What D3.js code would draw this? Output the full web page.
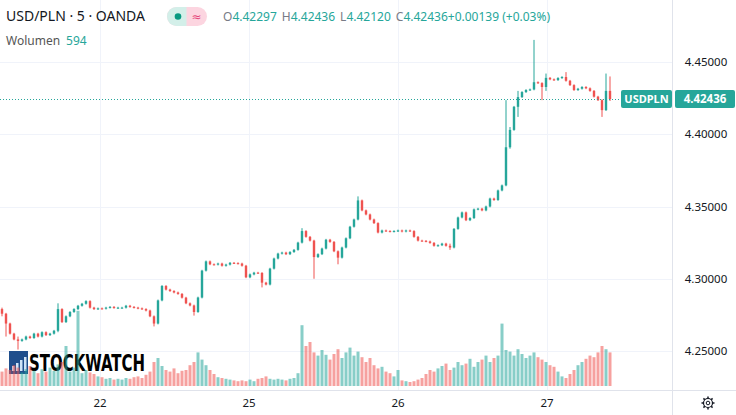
<!DOCTYPE html>
<html>
<head>
<meta charset="utf-8">
<script src="https://cdn.jsdelivr.net/npm/d3@7"></script>
<style>
  body { margin: 0; background: #fff; font-family: "Noto Sans", "DejaVu Sans", sans-serif; }
  svg text { font-family: "Noto Sans", "DejaVu Sans", sans-serif; }
</style>
</head>
<body>
<svg id="chart" width="736" height="415"></svg>
<script>
// USD/PLN 5 min, OANDA - one candle per bucket, open = previous close
var closes = [
  4.2758, 4.2690, 4.2620, 4.2580, 4.2570, 4.2580, 4.2600, 4.2590, 4.2620, 4.2600,
  4.2630, 4.2610, 4.2620, 4.2640, 4.2790, 4.2700, 4.2740, 4.2770, 4.2790, 4.2813,
  4.2827, 4.2845, 4.2800, 4.2790, 4.2795, 4.2793, 4.2800, 4.2805, 4.2798, 4.2800,
  4.2800, 4.2813, 4.2805, 4.2800, 4.2795, 4.2790, 4.2780, 4.2740, 4.2690, 4.2850,
  4.2950, 4.2925, 4.2915, 4.2905, 4.2895, 4.2869, 4.2830, 4.2815, 4.2770, 4.2870,
  4.3056, 4.3120, 4.3100, 4.3098, 4.3105, 4.3090, 4.3098, 4.3110, 4.3108, 4.3105,
  4.3090, 4.3010, 4.3030, 4.3042, 4.3040, 4.2973, 4.2960, 4.3070, 4.3140, 4.3174,
  4.3181, 4.3170, 4.3185, 4.3200, 4.3250, 4.3330, 4.3290, 4.3264, 4.3150, 4.3170,
  4.3209, 4.3270, 4.3255, 4.3190, 4.3146, 4.3216, 4.3280, 4.3360, 4.3410, 4.3542,
  4.3473, 4.3445, 4.3410, 4.3385, 4.3320, 4.3334, 4.3330, 4.3327, 4.3330, 4.3334,
  4.3327, 4.3334, 4.3330, 4.3290, 4.3264, 4.3262, 4.3258, 4.3248, 4.3228, 4.3232,
  4.3243, 4.3228, 4.3216, 4.3345, 4.3424, 4.3459, 4.3405, 4.3420, 4.3480, 4.3485,
  4.3473, 4.3500, 4.3555, 4.3545, 4.3611, 4.3646, 4.3910, 4.4030, 4.4190, 4.4257,
  4.4292, 4.4306, 4.4310, 4.4360, 4.4354, 4.4327, 4.4390, 4.4380, 4.4375, 4.4389,
  4.4396, 4.4370, 4.4340, 4.4306, 4.4315, 4.4327, 4.4318, 4.4300, 4.4260, 4.4236,
  4.4167, 4.4300, 4.42436
];
var firstOpen = 4.2790;

// notable wicks: [candle index, high, low]
var wicks = [
  [0, 4.2800, 4.2740], [1, 4.2760, 4.2600], [4, 4.2600, 4.2510], [14, 4.2830, 4.2630],
  [38, 4.2740, 4.2670], [48, 4.2815, 4.2745], [65, 4.3040, 4.2940], [75, 4.3350, 4.3250],
  [78, 4.3264, 4.3000], [84, 4.3190, 4.3100], [89, 4.3570, 4.3410], [112, 4.3243, 4.3200],
  [126, 4.4236, 4.3880], [127, 4.4050, 4.3900], [129, 4.4300, 4.4120], [133, 4.4653, 4.4310],
  [135, 4.4354, 4.4236], [136, 4.4420, 4.4300], [141, 4.4430, 4.4370], [150, 4.4236, 4.4120],
  [151, 4.4420, 4.4167], [152, 4.4400, 4.4230]
];
var minWick = 0.0006; // typical 5-min range beyond the body

var volumes = [
  180, 220, 200, 260, 230, 170, 210, 250, 190, 160,
  210, 180, 230, 190, 270, 300, 500, 180, 230, 940,
  160, 200, 170, 150, 120, 110, 90, 100, 80, 90,
  80, 100, 90, 110, 120, 100, 140, 180, 300, 350,
  250, 200, 180, 220, 160, 190, 200, 260, 300, 420,
  330, 260, 200, 150, 110, 100, 90, 80, 70, 60,
  70, 60, 80, 60, 90, 100, 120, 90, 80, 90,
  80, 70, 90, 100, 160, 760, 500, 550, 420, 380,
  450, 390, 330, 400, 460, 350, 420, 480, 380, 430,
  360, 300, 350, 260, 220, 240, 180, 160, 120, 200,
  70, 60, 50, 60, 80, 100, 150, 200, 180, 220,
  250, 280, 200, 230, 300, 260, 280, 340, 240, 300,
  330, 380, 300, 350, 380, 780, 450, 430, 380, 460,
  400, 350, 380, 420, 360, 330, 300, 260, 240, 180,
  120, 100, 150, 200, 260, 300, 340, 380, 360, 420,
  500, 460, 420
];

var priceTicks = [4.25, 4.30, 4.35, 4.40, 4.45];
var dayTicks = [[24.5, "22"], [61.75, "25"], [99, "26"], [136.25, "27"]];
var lastPrice = 4.42436;

var upCol = "#26a69a", downCol = "#ef5350";

var svg = d3.select("#chart");
var plotRight = 672, axisY = 390;

var x = d3.scaleLinear().domain([0, 1]).range([2, 6]);
var y = d3.scaleLinear().domain([4.25, 4.45]).range([351, 62]);
var yv = d3.scaleLinear().domain([0, 1000]).range([386, 306]);

// build candles
var candles = closes.map(function (c, i) {
  var o = i == 0 ? firstOpen : closes[i - 1];
  return { i: i, o: o, c: c, h: Math.max(o, c) + minWick, l: Math.min(o, c) - minWick, v: volumes[i] };
});
wicks.forEach(function (w) {
  candles[w[0]].h = Math.max(candles[w[0]].h, w[1]);
  candles[w[0]].l = Math.min(candles[w[0]].l, w[2]);
});

// grid
svg.append("g").selectAll("line").data(priceTicks).join("line")
  .attr("x1", 0).attr("x2", plotRight)
  .attr("y1", function (d) { return Math.round(y(d)) + 0.5; })
  .attr("y2", function (d) { return Math.round(y(d)) + 0.5; })
  .attr("stroke", "#f0f3fa");
svg.append("g").selectAll("line").data(dayTicks).join("line")
  .attr("x1", function (d) { return Math.round(x(d[0])) + 0.5; })
  .attr("x2", function (d) { return Math.round(x(d[0])) + 0.5; })
  .attr("y1", 0).attr("y2", axisY)
  .attr("stroke", "#f0f3fa");

// watermark
var wm = svg.append("g").attr("transform", "translate(9,351)");
wm.append("rect").attr("width", 19).attr("height", 23).attr("fill", "#1f4e8c");
[3, 7, 11, 15].forEach(function (bx, k) {
  wm.append("rect").attr("x", bx).attr("y", 15 - k * 3).attr("width", 2.5).attr("height", 5 + k * 3).attr("fill", "#cfe3f7");
});
wm.append("text").attr("x", 20).attr("y", 20).attr("font-size", 23).attr("font-weight", "bold")
  .attr("textLength", 116).attr("lengthAdjust", "spacingAndGlyphs")
  .style("font-family", "'Liberation Sans Narrow', 'DejaVu Sans Condensed', sans-serif")
  .attr("fill", "#000").text("STOCKWATCH");

// volume
svg.append("g").selectAll("rect").data(candles).join("rect")
  .attr("x", function (d) { return x(d.i) - 1.5; })
  .attr("width", 3)
  .attr("y", function (d) { return yv(d.v); })
  .attr("height", function (d) { return yv(0) - yv(d.v); })
  .attr("fill", function (d) { return d.c >= d.o ? upCol : downCol; })
  .attr("opacity", 0.55);

// candles
var cg = svg.append("g").selectAll("g").data(candles).join("g");
cg.append("line")
  .attr("x1", function (d) { return x(d.i); }).attr("x2", function (d) { return x(d.i); })
  .attr("y1", function (d) { return y(d.h); }).attr("y2", function (d) { return y(d.l); })
  .attr("stroke", function (d) { return d.c >= d.o ? upCol : downCol; })
  .attr("stroke-width", 1);
cg.append("rect")
  .attr("x", function (d) { return x(d.i) - 1.2; })
  .attr("width", 2.4)
  .attr("y", function (d) { return y(Math.max(d.o, d.c)); })
  .attr("height", function (d) { return Math.max(1, Math.abs(y(d.o) - y(d.c))); })
  .attr("fill", function (d) { return d.c >= d.o ? upCol : downCol; });

// last price line
svg.append("line").attr("x1", 0).attr("x2", plotRight)
  .attr("y1", Math.round(y(lastPrice)) + 0.5).attr("y2", Math.round(y(lastPrice)) + 0.5)
  .attr("stroke", upCol).attr("stroke-dasharray", "1,2");

// axes borders
svg.append("line").attr("x1", plotRight + 0.5).attr("x2", plotRight + 0.5).attr("y1", 0).attr("y2", 415).attr("stroke", "#e0e3eb");
svg.append("line").attr("x1", 0).attr("x2", 736).attr("y1", axisY + 0.5).attr("y2", axisY + 0.5).attr("stroke", "#e0e3eb");

// price axis labels
svg.append("g").selectAll("text").data(priceTicks).join("text")
  .attr("x", 706).attr("y", function (d) { return y(d) + 4; })
  .attr("text-anchor", "middle").attr("font-size", 11.5).attr("fill", "#131722")
  .text(function (d) { return d3.format(".5f")(d); });

// time axis labels
svg.append("g").selectAll("text").data(dayTicks).join("text")
  .attr("x", function (d) { return x(d[0]); }).attr("y", 407)
  .attr("text-anchor", "middle").attr("font-size", 11.5).attr("fill", "#131722")
  .text(function (d) { return d[1]; });

// last price labels
var ly = y(lastPrice);
svg.append("rect").attr("x", 621).attr("y", ly - 9).attr("width", 51).attr("height", 18).attr("rx", 2).attr("fill", upCol);
svg.append("text").attr("x", 646.5).attr("y", ly + 4).attr("text-anchor", "middle").attr("font-size", 11).attr("font-weight", "bold").attr("fill", "#fff").text("USDPLN");
svg.append("rect").attr("x", 675).attr("y", ly - 9).attr("width", 60).attr("height", 18).attr("rx", 2).attr("fill", upCol);
svg.append("text").attr("x", 705).attr("y", ly + 4).attr("text-anchor", "middle").attr("font-size", 11.5).attr("font-weight", "bold").attr("fill", "#fff").text(d3.format(".5f")(lastPrice));

// gear icon
var gear = svg.append("g").attr("transform", "translate(708,403)");
gear.append("circle").attr("r", 4.5).attr("fill", "none").attr("stroke", "#131722").attr("stroke-width", 1.2);
gear.append("circle").attr("r", 1.8).attr("fill", "none").attr("stroke", "#131722").attr("stroke-width", 1);
d3.range(8).forEach(function (k) {
  var a = k * Math.PI / 4;
  gear.append("line").attr("x1", Math.cos(a) * 4.5).attr("y1", Math.sin(a) * 4.5)
    .attr("x2", Math.cos(a) * 6.5).attr("y2", Math.sin(a) * 6.5)
    .attr("stroke", "#131722").attr("stroke-width", 1.5);
});

// header
svg.append("text").attr("x", 6).attr("y", 21).attr("font-size", 14).attr("fill", "#131722").text("USD/PLN · 5 · OANDA");
svg.append("rect").attr("x", 167).attr("y", 7).attr("width", 40).attr("height", 19).attr("rx", 9.5).attr("fill", "#fcd5e0");
svg.append("path").attr("d", "M176.5,7 h10 v19 h-10 a9.5,9.5 0 0 1 0,-19 z").attr("fill", "#d3efe9");
svg.append("circle").attr("cx", 178).attr("cy", 16.5).attr("r", 3.3).attr("fill", "#089981");
svg.append("text").attr("x", 196.5).attr("y", 21).attr("text-anchor", "middle").attr("font-size", 12).attr("fill", "#e5457a").text("≈");

var ohlc = [["O", "4.42297"], ["H", "4.42436"], ["L", "4.42120"], ["C", "4.42436"], ["", "+0.00139 (+0.03%)"]];
var hdr = svg.append("text").attr("x", 223).attr("y", 21).attr("font-size", 12);
ohlc.forEach(function (p, k) {
  hdr.append("tspan").attr("fill", "#787b86").attr("dx", k ? 5 : 0).text(p[0]);
  hdr.append("tspan").attr("fill", upCol).text(p[1]);
});
var vol = svg.append("text").attr("x", 6).attr("y", 45).attr("font-size", 12);
vol.append("tspan").attr("fill", "#555").text("Wolumen");
vol.append("tspan").attr("fill", upCol).attr("dx", 6).text("594");
</script>
</body>
</html>
